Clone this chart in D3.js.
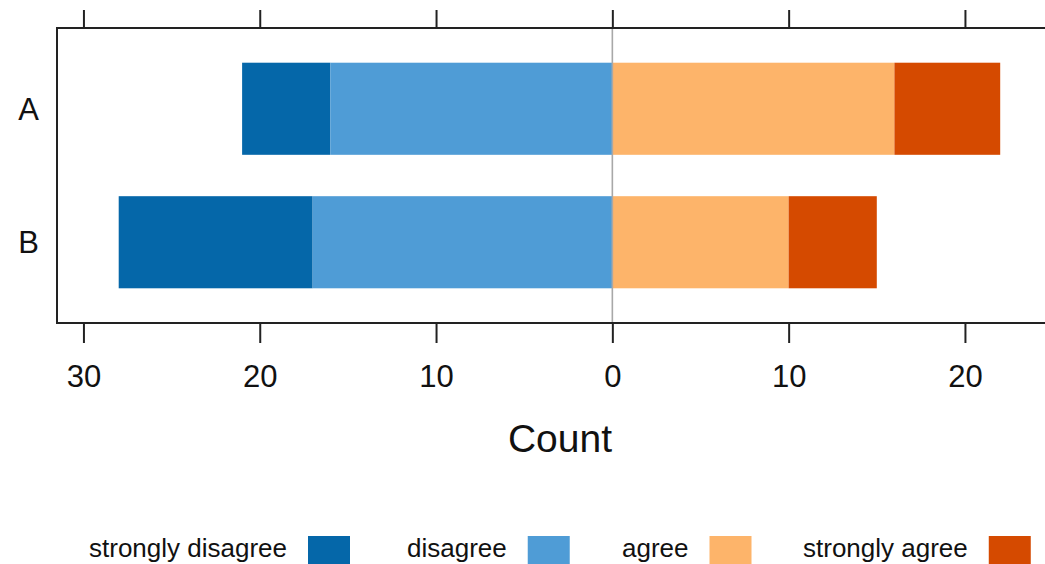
<!DOCTYPE html>
<html>
<head>
<meta charset="utf-8">
<script src="https://cdn.jsdelivr.net/npm/d3@7/dist/d3.min.js"></script>
<style>
  html, body { margin: 0; padding: 0; background: #fff; }
  svg { display: block; font-family: "Liberation Sans", Arial, Helvetica, sans-serif; }
</style>
</head>
<body>
<svg id="chart" width="1045" height="564"></svg>
<script>
// Survey responses per group
const groups = ["A", "B"];
const levels = ["strongly disagree", "disagree", "agree", "strongly agree"];
const stronglyDisagree = [5, 11];
const disagree = [16, 17];
const agree = [16, 10];
const stronglyAgree = [6, 5];
const tickValues = [-30, -20, -10, 0, 10, 20];
const tickLabels = ["30", "20", "10", "0", "10", "20"];
const levelColors = ["#0567a9", "#4f9cd6", "#fdb46a", "#d54a00"];

const svg = d3.select("#chart");

const panel = { left: 57, top: 28, bottom: 323, right: 1060 };

const x = d3.scaleLinear()
  .domain([-31.5, 25.5])
  .range([panel.left, panel.left + 57 * 17.63]);

const y = d3.scaleBand()
  .domain(groups)
  .range([panel.top, panel.bottom])
  .paddingInner(0.31)
  .paddingOuter(0.26);

// Build stacked segments: negatives grow left from zero, positives grow right
const segments = [];
groups.forEach((g, i) => {
  const sd = stronglyDisagree[i], d = disagree[i], a = agree[i], sa = stronglyAgree[i];
  segments.push({ g, level: 0, x0: -(sd + d), x1: -d });
  segments.push({ g, level: 1, x0: -d, x1: 0 });
  segments.push({ g, level: 2, x0: 0, x1: a });
  segments.push({ g, level: 3, x0: a, x1: a + sa });
});

svg.append("g")
  .selectAll("rect")
  .data(segments)
  .join("rect")
  .attr("x", s => x(s.x0))
  .attr("width", s => x(s.x1) - x(s.x0))
  .attr("y", s => y(s.g))
  .attr("height", y.bandwidth())
  .attr("fill", s => levelColors[s.level]);

// Zero reference line
svg.append("line")
  .attr("x1", x(0)).attr("x2", x(0))
  .attr("y1", panel.top).attr("y2", panel.bottom)
  .attr("stroke", "#a8a8a8")
  .attr("stroke-width", 1.6);

// Panel frame
svg.append("rect")
  .attr("x", panel.left)
  .attr("y", panel.top)
  .attr("width", panel.right - panel.left)
  .attr("height", panel.bottom - panel.top)
  .attr("fill", "none")
  .attr("stroke", "#222")
  .attr("stroke-width", 2);

// Bottom axis
const bottomAxis = d3.axisBottom(x)
  .tickValues(tickValues)
  .tickFormat((d, i) => tickLabels[i])
  .tickSize(20)
  .tickPadding(22);

const gb = svg.append("g")
  .attr("transform", `translate(0,${panel.bottom})`)
  .call(bottomAxis);
gb.select(".domain").remove();
gb.selectAll(".tick line").attr("stroke", "#222").attr("stroke-width", 2);
gb.selectAll(".tick text")
  .attr("fill", "#111")
  .style("font-size", "31px")
  .style("font-family", "'Liberation Sans', Arial, sans-serif");

// Top axis ticks (no labels)
const topAxis = d3.axisTop(x)
  .tickValues(tickValues)
  .tickFormat("")
  .tickSize(18);
const gt = svg.append("g")
  .attr("transform", `translate(0,${panel.top})`)
  .call(topAxis);
gt.select(".domain").remove();
gt.selectAll(".tick line").attr("stroke", "#222").attr("stroke-width", 2);

// Group labels
svg.append("g")
  .selectAll("text")
  .data(groups)
  .join("text")
  .attr("x", 39)
  .attr("y", g => y(g) + y.bandwidth() / 2)
  .attr("dy", "0.36em")
  .attr("text-anchor", "end")
  .attr("fill", "#111")
  .style("font-size", "31px")
  .text(g => g);

// Axis title
svg.append("text")
  .attr("x", 560)
  .attr("y", 452)
  .attr("text-anchor", "middle")
  .attr("fill", "#111")
  .style("font-size", "39px")
  .text("Count");

// Legend: label followed by a swatch
const legendX = [89, 407, 622, 803];
const legend = svg.append("g")
  .selectAll("g")
  .data(levels)
  .join("g")
  .attr("transform", (d, i) => `translate(${legendX[i]},0)`);

legend.append("text")
  .attr("x", 0)
  .attr("y", 557)
  .attr("fill", "#111")
  .style("font-size", "26px")
  .text(d => d);

legend.each(function (d, i) {
  const g = d3.select(this);
  const w = g.select("text").node().getComputedTextLength();
  g.append("rect")
    .attr("x", w + 21)
    .attr("y", 536)
    .attr("width", 42)
    .attr("height", 28)
    .attr("fill", levelColors[i]);
});
</script>
</body>
</html>
